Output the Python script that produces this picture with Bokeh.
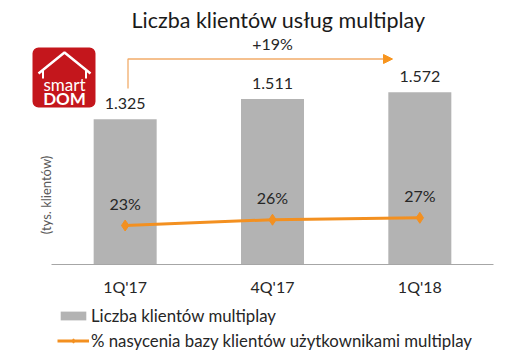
import math
from bokeh.plotting import figure
from bokeh.models import (Range1d, FixedTicker, Legend, LegendItem, Label,
                          Arrow, NormalHead)
from bokeh.core.properties import value
from bokeh.embed import file_html
from bokeh.resources import INLINE

# ---------------- data ----------------
categories = ["1Q'17", "4Q'17", "1Q'18"]
clients = [1325, 1511, 1572]              # tys. klientów
client_labels = ["1.325", "1.511", "1.572"]
saturation = [23, 26, 27]                 # %
saturation_labels = ["23%", "26%", "27%"]
growth_label = "+19%"
title_text = "Liczba klientów usług multiplay"
y_label = "(tys. klientów)"
series_names = ["Liczba klientów multiplay",
                "% nasycenia bazy klientów użytkownikami multiplay"]

# ---------------- geometry ----------------
FONT = "Lato"
W, H = 511, 351
PX_CAT = 147.33          # px per category
X0 = 51                  # px of the category axis start
Y0 = 264                 # px of the value-axis zero (baseline)
YS = 9.13                # value units per px (primary axis)
P0 = 269.4               # px of 0 % on the secondary axis
PS = 1.93                # px per percent (secondary axis)
TXT = "#262626"
BAR = "#b3b3b3"
ORANGE = "#f39020"
ARROW_C = "#f2ac6a"
RED = "#c4161c"

def X(px):  # pixel x -> data x
    return (px - X0) / PX_CAT

def Y(py):  # pixel y -> data y
    return (Y0 - py) * YS

xs = [i + 0.5 for i in range(len(categories))]

p = figure(width=W, height=H, output_backend="svg", toolbar_location=None,
           x_range=Range1d(X(0), X(W)), y_range=Range1d(Y(H), Y(0)),
           y_axis_location=None, title=None,
           min_border_left=0, min_border_right=0, min_border_top=0,
           min_border_bottom=0)
p.extra_y_ranges = {"pct": Range1d((P0 - H) / PS, P0 / PS)}
p.outline_line_color = None
p.xgrid.grid_line_color = None
p.ygrid.grid_line_color = None
p.background_fill_color = "white"
p.border_fill_color = "white"

# x axis (drawn at value 0)
p.xaxis.fixed_location = 0
p.xaxis.ticker = FixedTicker(ticks=xs)
p.xaxis.major_label_overrides = {x: c for x, c in zip(xs, categories)}
p.xaxis.axis_line_color = None
p.xaxis.major_tick_line_color = None
p.xaxis.minor_tick_line_color = None
p.xaxis.major_tick_out = 0
p.xaxis.major_tick_in = 0
p.xaxis.major_label_standoff = 12
p.xaxis.major_label_text_font = FONT
p.xaxis.major_label_text_font_size = "16px"
p.xaxis.major_label_text_color = TXT

# bars
bars = p.vbar(x=xs, top=clients, bottom=0, width=63 / PX_CAT,
              fill_color=BAR, line_color=None)
p.segment(x0=0, x1=len(categories), y0=0, y1=0, line_color="#a6a6a6",
          line_width=1)
p.text(x=xs, y=clients, text=client_labels, y_offset=-16,
       text_align="center", text_baseline="middle",
       text_font=value(FONT), text_font_size="16px", text_color=TXT)

# line
ln = p.line(x=xs, y=saturation, y_range_name="pct", line_color=ORANGE,
            line_width=3)
mk = p.scatter(x=xs, y=saturation, y_range_name="pct", marker="diamond",
               size=11, fill_color=ORANGE, line_color=ORANGE)
p.text(x=xs, y=saturation, text=saturation_labels, y_range_name="pct",
       y_offset=-22, text_align="center", text_baseline="middle",
       text_font=value(FONT), text_font_size="16px", text_color=TXT)

# growth arrow
p.line(x=[X(127.5), X(127.5), X(386)], y=[Y(88), Y(58.5), Y(58.5)],
       line_color=ARROW_C, line_width=1.3)
p.add_layout(Arrow(x_start=X(383), y_start=Y(58.5), x_end=X(392),
                   y_end=Y(58.5), line_color=ARROW_C, line_width=1.3,
                   end=NormalHead(size=9, fill_color="#f7941d",
                                  line_color="#f7941d")))
p.text(x=[xs[1]], y=[Y(43)], text=[growth_label], text_align="center",
       text_baseline="middle", text_font=value(FONT),
       text_font_size="16px", text_color=TXT)

# title
p.add_layout(Label(x=X(278), y=Y(19), text=title_text, text_align="center",
                   text_baseline="alphabetic", text_font=FONT,
                   text_font_size="21.5px", text_color="#1a1a1a"))
# y label
p.add_layout(Label(x=X(45.5), y=Y(194.5), text=y_label, angle=math.pi / 2,
                   text_align="center", text_baseline="middle",
                   text_font=FONT, text_font_size="13px",
                   text_color="#595959"))

# logo
p.quad(left=X(32), right=X(95), top=Y(47), bottom=Y(107), border_radius=6,
       fill_color=RED, line_color=None)
p.line(x=[X(38), X(64), X(90)], y=[Y(73), Y(52), Y(73)], line_color="white",
       line_width=2.5)
p.segment(x0=[X(42.5), X(85.5)], y0=[Y(70), Y(70)],
          x1=[X(42.5), X(85.5)], y1=[Y(78), Y(78)],
          line_color="white", line_width=2)
p.text(x=[X(64)], y=[Y(84)], text=["smart"], text_align="center",
       text_baseline="middle", text_font=value(FONT),
       text_font_size="17px", text_color="white")
p.text(x=[X(64)], y=[Y(97.5)], text=["DOM"], text_align="center",
       text_baseline="middle", text_font=value(FONT),
       text_font_size="17px", text_font_style="bold", text_color="white")

# legend
legend = Legend(items=[LegendItem(label=series_names[0], renderers=[bars]),
                       LegendItem(label=series_names[1], renderers=[ln, mk])],
                location=(57, 0), orientation="vertical",
                glyph_width=32, glyph_height=11, label_standoff=2,
                spacing=4, padding=0, margin=0, label_height=20,
                label_text_font=FONT, label_text_font_size="16.8px",
                label_text_color=TXT, border_line_color=None,
                background_fill_alpha=0)
p.add_layout(legend)

open("out.html", "w").write(file_html(p, INLINE))
